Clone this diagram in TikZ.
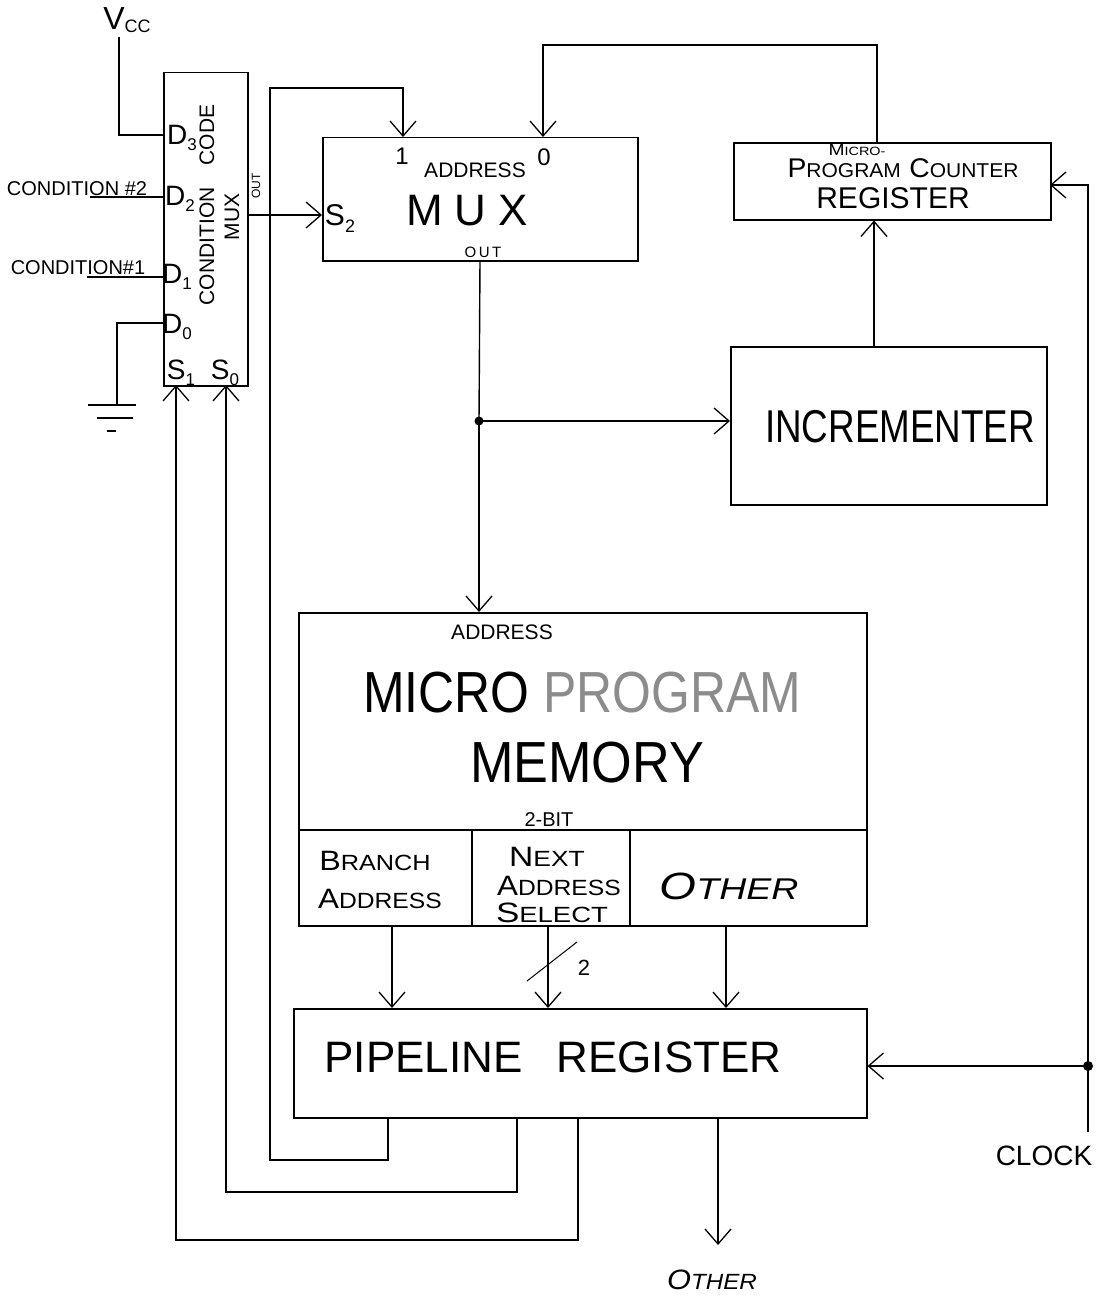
\documentclass[tikz,border=0pt]{standalone}
\usepackage{fontspec}
\setmainfont{Liberation Sans}
\usetikzlibrary{arrows.meta}
\newcommand\fs[1]{\fontsize{#1}{#1}\selectfont}
\newcommand\hsc[4]{{\fs{#1}#3}{\fs{#2}#4}}
\newcommand\hx[2]{\scalebox{#1}[1]{#2}}
\begin{document}
\begin{tikzpicture}[x=1pt,y=-1pt,
  wire/.style={line width=1.4pt},
  arr/.style={wire,-{Straight Barb[length=15pt,width=26pt,line width=1.3pt]}},
  blk/.style={draw,line width=1.5pt,inner sep=0pt,anchor=north west},
  lbl/.style={inner sep=0pt,anchor=center}]
\fill[white] (0,0) rectangle (1106,1295);
\useasboundingbox (0,0) rectangle (1106,1295);

% ---------- blocks ----------
\node[blk,minimum width=84pt,minimum height=313pt]  (cmux) at (163,72) {};
\node[blk,minimum width=315pt,minimum height=123pt] (amux) at (322,137) {};
\node[blk,minimum width=317pt,minimum height=77pt]  (pcr)  at (733,142) {};
\node[blk,minimum width=316pt,minimum height=158pt] (inc)  at (730,346) {};
\node[blk,minimum width=568pt,minimum height=313pt] (mem)  at (298,612) {};
\node[blk,minimum width=573pt,minimum height=109pt] (pipe) at (293,1008) {};

% memory fields
\coordinate (fl) at (298,830);
\coordinate (dv1) at (472,830);
\coordinate (dv2) at (630,830);
\draw[line width=1.5pt] (fl) -- (fl -| mem.east);
\draw[line width=1.5pt] (dv1) -- (dv1 |- mem.south);
\draw[line width=1.5pt] (dv2) -- (dv2 |- mem.south);

% ---------- condition mux texts ----------
\node[lbl,rotate=90] (cmt) at (207,205) {\fs{21}CONDITION\hspace{22pt}CODE};
\node[lbl,rotate=90] (cmm) at (232,217) {\fs{21}MUX};
\node[lbl,rotate=90] (cmo) at (256,186) {\fs{12}OUT};
\node[lbl] (d3) at (182,138) {{\fs{28}D}\raisebox{-6pt}{\fs{17}3}};
\node[lbl] (d2) at (180,199) {{\fs{28}D}\raisebox{-6pt}{\fs{17}2}};
\node[lbl] (d1) at (177,277) {{\fs{28}D}\raisebox{-6pt}{\fs{17}1}};
\node[lbl] (d0) at (177,327) {{\fs{28}D}\raisebox{-6pt}{\fs{17}0}};
\node[lbl] (s1) at (181,373) {{\fs{28}S}\raisebox{-6pt}{\fs{17}1}};
\node[lbl] (s0) at (225,373) {{\fs{28}S}\raisebox{-6pt}{\fs{17}0}};

% inputs
\node[lbl] (vcc) at (127,20) {{\fs{32}V}\raisebox{-3pt}{\fs{18}CC}};
\coordinate (vt) at (119,37);
\coordinate (in3) at (163,135);
\draw[wire] (vt) |- (in3);
\node[lbl] (c2) at (77,189) {\fs{20}CONDITION \#2};
\coordinate (w2) at (90,197);
\draw[wire] (w2) -- (w2 -| cmux.west);
\node[lbl] (c1) at (78,268) {\fs{20}CONDITION\#1};
\coordinate (w1) at (87,277);
\draw[wire] (w1) -- (w1 -| cmux.west);
\coordinate (in0d) at (163,323);
\coordinate (gnd) at (117,405);
\draw[wire] (in0d) -| (gnd);
\draw[wire] (88,405) -- (136,405);
\draw[wire] (97,418) -- (133,418);
\draw[wire] (107,431) -- (116,431);

% ---------- address mux ----------
\node[lbl] (a1) at (402,156) {\fs{24}1};
\node[lbl] (aad) at (475,170) {\fs{21}ADDRESS};
\node[lbl] (a0) at (544,157) {\fs{24}0};
\node[lbl] (amx) at (467,211) {\fs{44}M\hspace{12pt}U\hspace{12pt}X};
\node[lbl] (as2) at (340,219) {{\fs{30}S}\raisebox{-7pt}{\fs{18}2}};
\node[lbl] (aout) at (483,252) {\fs{15}O\,U\,T};

\coordinate (s2) at (322,215);
\draw[arr] (cmux.east |- s2) -- (s2);

% ---------- pc register / incrementer ----------
\node[lbl] (pm) at (857,150) {\hx{1.2}{\hsc{16}{12}{M}{ICRO-}}};
\node[lbl] (pp) at (903,168) {\hx{1.05}{\hsc{27}{20}{P}{ROGRAM}\hspace{8pt}\hsc{27}{20}{C}{OUNTER}}};
\node[lbl] (pr) at (893,198) {\fs{30}REGISTER};
\node[lbl] (inct) at (900,427) {\hx{0.8}{\fs{46}INCREMENTER}};

% ---------- memory texts ----------
\node[lbl] (mad) at (502,632) {\fs{21}ADDRESS};
\node[lbl] (mmp) at (582,693) {\hx{0.86}{\fs{58}MICRO {\color{black!45}PROGRAM}}};
\node[lbl] (mme) at (587,763) {\hx{0.9}{\fs{58}MEMORY}};
\node[lbl] (m2b) at (549,820) {\fs{20}2-BIT};
\node[lbl] (fb1) at (375,861) {\hx{1.15}{\hsc{28}{22}{B}{RANCH}}};
\node[lbl] (fb2) at (380,899) {\hx{1.12}{\hsc{28}{22}{A}{DDRESS}}};
\node[lbl] (fn1) at (547,857) {\hx{1.2}{\hsc{28}{22}{N}{EXT}}};
\node[lbl] (fn2) at (559,886) {\hx{1.12}{\hsc{28}{22}{A}{DDRESS}}};
\node[lbl] (fn3) at (552,913) {\hx{1.25}{\hsc{28}{22}{S}{ELECT}}};
\node[lbl] (fo) at (729,886) {\itshape\hx{1.25}{\hsc{38}{30}{O}{THER}}};

% ---------- pipeline ----------
\node[lbl] (pt) at (553,1057) {\fs{44}PIPELINE\hspace{34pt}REGISTER};

% ---------- connectors ----------
\coordinate (mo) at (480,260);
\coordinate (j1) at (479,421);
\draw[wire] (mo) -- (j1);
\draw[arr] (j1) -- (j1 |- mem.north);
\draw[arr] (j1) -- (j1 -| inc.west);
\fill (j1) circle (4.5pt);

\coordinate (ip) at (874,346);
\draw[arr] (ip) -- (ip |- pcr.south);

\coordinate (pcout) at (877,142);
\coordinate (in0) at (543,137);
\draw[arr] (pcout) -- ++(0,-97) -| (in0);

\coordinate (ck) at (1088,1132);
\coordinate (cj) at (1088,1066);
\coordinate (pcin) at (1050,185);
\draw[wire] (ck) -- (cj);
\draw[arr] (cj) -- (cj -| pipe.east);
\draw[arr] (cj) |- (pcin);
\fill (cj) circle (5pt);
\node[lbl] (clk) at (1044,1156) {\fs{28}CLOCK};

\coordinate (fa) at (392,925);
\coordinate (fbb) at (548,925);
\coordinate (fc) at (726,925);
\draw[arr] (fa) -- (fa |- pipe.north);
\draw[arr] (fbb) -- (fbb |- pipe.north);
\draw[arr] (fc) -- (fc |- pipe.north);
\draw[line width=1pt] (527,981) -- (577,942);
\node[lbl] (two) at (584,968) {\fs{22}2};

\coordinate (p1) at (388,1117);
\coordinate (p2) at (517,1117);
\coordinate (p3) at (578,1117);
\coordinate (p4) at (718,1117);
\coordinate (in1) at (403,137);
\coordinate (lp1) at (270,88);
\coordinate (sel0) at (226,385);
\coordinate (sel1) at (176,385);
\draw[arr] (p1) -- ++(0,43) -| (lp1) -| (in1);
\draw[arr] (p2) -- ++(0,75) -| (sel0);
\draw[arr] (p3) -- ++(0,123) -| (sel1);
\draw[arr] (p4) -- ++(0,128);
\node[lbl] (ot) at (712,1280) {\itshape\hx{1.1}{\hsc{28}{22}{O}{THER}}};
\end{tikzpicture}
\end{document}
